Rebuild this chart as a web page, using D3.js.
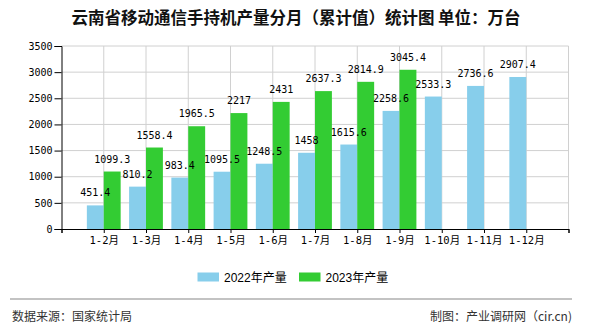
<!DOCTYPE html>
<html><head><meta charset="utf-8">
<script src="https://cdn.jsdelivr.net/npm/d3@7/dist/d3.min.js"></script>
<style>body{margin:0;background:#fff}svg{display:block}</style>
</head><body>
<script>
const categories = ["1-2月","1-3月","1-4月","1-5月","1-6月","1-7月","1-8月","1-9月","1-10月","1-11月","1-12月"];
const values2022 = [451.4, 810.2, 983.4, 1095.5, 1248.5, 1458, 1615.6, 2258.6, 2533.3, 2736.6, 2907.4];
const values2023 = [1099.3, 1558.4, 1965.5, 2217, 2431, 2637.3, 2814.9, 3045.4];
const seriesNames = ["2022年产量", "2023年产量"];
const yTicks = [0, 500, 1000, 1500, 2000, 2500, 3000, 3500];
const title = "云南省移动通信手持机产量分月（累计值）统计图 单位：万台";
const source = "数据来源：国家统计局";
const credit = "制图：产业调研网（cir.cn)";

const W = 590, H = 330;
const pL = 61.5, pR = 568.5, pT = 46, pB = 229;
const colors = ["#87CEEB", "#33CC33"];
const mono = "'DejaVu Sans Mono','Noto Sans CJK SC',monospace";
const sans = "'Liberation Sans','Noto Sans CJK SC',sans-serif";

const svg = d3.select("body").append("svg").attr("width", W).attr("height", H);

const x = d3.scaleLinear().domain([0, categories.length + 1]).range([pL, pR]);
const y = d3.scaleLinear().domain([0, 3500]).range([pB, pT]);
const band = x(1) - x(0);
const bw = band * 0.4;

// grid
const g = svg.append("g");
g.selectAll("line.h").data(yTicks.slice(1)).join("line")
  .attr("x1", pL).attr("x2", pR).attr("y1", d => y(d)).attr("y2", d => y(d))
  .attr("stroke", "#d0d0d0").attr("stroke-width", 1);
g.selectAll("line.v").data(d3.range(1, categories.length + 2)).join("line")
  .attr("x1", d => x(d)).attr("x2", d => x(d)).attr("y1", pT).attr("y2", pB)
  .attr("stroke", "#d0d0d0").attr("stroke-width", 1);

// bars
svg.append("g").selectAll("rect").data(values2022).join("rect")
  .attr("x", (d, i) => x(i + 1) - bw).attr("width", bw)
  .attr("y", d => y(d)).attr("height", d => pB - y(d)).attr("fill", colors[0]);
svg.append("g").selectAll("rect").data(values2023).join("rect")
  .attr("x", (d, i) => x(i + 1)).attr("width", bw)
  .attr("y", d => y(d)).attr("height", d => pB - y(d)).attr("fill", colors[1]);

// axes
const yAxis = svg.append("g").attr("transform", `translate(${pL},0)`)
  .call(d3.axisLeft(y).tickValues(yTicks).tickSize(7).tickPadding(2).tickFormat(d3.format("d")));
const xAxis = svg.append("g").attr("transform", `translate(0,${pB})`)
  .call(d3.axisBottom(x).tickValues(d3.range(0, categories.length + 2)).tickSize(4).tickPadding(4)
    .tickFormat(d => (d >= 1 && d <= categories.length) ? categories[d - 1] : ""));
[yAxis, xAxis].forEach(a => {
  a.select(".domain").attr("stroke", "#000");
  a.selectAll(".tick line").attr("stroke", "#000");
  a.selectAll("text").attr("fill", "#000").attr("font-family", mono).attr("font-size", 10);
});
xAxis.selectAll("text").attr("font-size", 10.5);

// value labels
const lab = svg.append("g").attr("font-family", mono).attr("font-size", 10).attr("text-anchor", "middle").attr("fill", "#000");
lab.selectAll("text.a").data(values2022).join("text")
  .attr("x", (d, i) => x(i + 1) - bw / 2).attr("y", d => y(d) - 9).text(d => d);
lab.selectAll("text.b").data(values2023).join("text")
  .attr("x", (d, i) => x(i + 1) + bw / 2).attr("y", d => y(d) - 9).text(d => d);

// title
svg.append("text").attr("x", 296).attr("y", 24).attr("text-anchor", "middle")
  .attr("font-family", "'Noto Sans CJK SC',sans-serif").attr("font-size", 16.5).attr("font-weight", "bold")
  .attr("fill", "#111").text(title);

// legend
const legX = [197.5, 299];
seriesNames.forEach((n, i) => {
  svg.append("rect").attr("x", legX[i]).attr("y", 272.5).attr("width", 21.5).attr("height", 9).attr("fill", colors[i]);
  svg.append("text").attr("x", legX[i] + 26.5).attr("y", 281.5).attr("font-family", sans)
    .attr("font-size", 12).attr("fill", "#000").text(n);
});

// separator & footer
svg.append("line").attr("x1", 10).attr("x2", 572).attr("y1", 299).attr("y2", 299)
  .attr("stroke", "#888").attr("stroke-width", 1.2);
svg.append("text").attr("x", 12).attr("y", 320.5).attr("font-family", "'Noto Sans CJK SC',sans-serif")
  .attr("font-size", 12).attr("fill", "#333").text(source);
svg.append("text").attr("x", 572).attr("y", 320.5).attr("text-anchor", "end").attr("font-family", "'Noto Sans CJK SC',sans-serif")
  .attr("font-size", 12).attr("fill", "#333").text(credit);
</script>
</body></html>
